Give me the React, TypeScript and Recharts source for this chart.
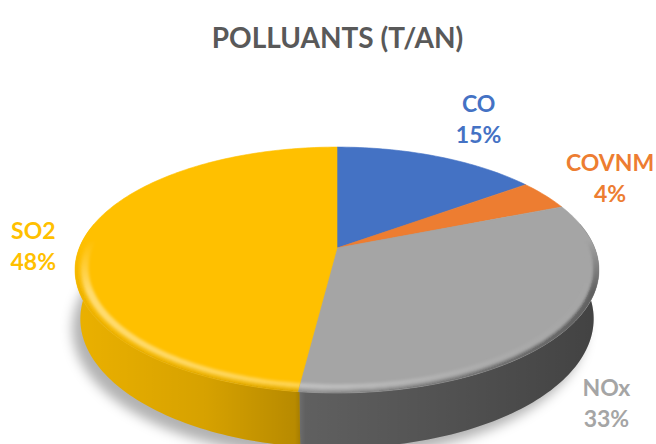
import React from 'react';
import { PieChart, Pie, Cell } from 'recharts';

// Share of each pollutant (%), clockwise from 12 o'clock
const categories = ['CO', 'COVNM', 'NOx', 'SO2'];
const shares = [15, 4, 33, 48];
const sliceColors = ['#4472C4', '#ED7D31', '#A5A5A5', '#FFC000'];
const chartTitle = 'POLLUANTS (T/AN)';

const rows = categories.map((name, i) => ({ name, value: shares[i] }));
const colorOf = (name: string) => sliceColors[categories.indexOf(name)] ?? '#999';

const WIDTH = 656;
const HEIGHT = 444;
const PIE_CX = 337;
const PIE_CY = 248;
const PIE_R = 100;

// Perspective camera looking down on the disc
const TILT = (27.5 * Math.PI) / 180;
const SIN_T = Math.sin(TILT);
const COS_T = Math.cos(TILT);
const DIST = 4.955;
const FOCAL = 1277;
const THICK = 0.215;

type Pt = [number, number];

// Polar angle (Recharts convention, degrees CCW from 3 o'clock), radius in pie units, height
const project = (cx: number, cy: number, deg: number, r: number, h: number): Pt => {
  const a = (deg * Math.PI) / 180;
  const x = r * Math.cos(a);
  const z = r * Math.sin(a);
  const v = z * SIN_T + h * COS_T;
  const w = DIST + z * COS_T - h * SIN_T;
  return [cx + (FOCAL * x) / w, cy - (FOCAL * v) / w];
};

const arcPoints = (cx: number, cy: number, a0: number, a1: number, r: number, h: number): Pt[] => {
  const n = Math.max(2, Math.ceil(Math.abs(a1 - a0) / 1.2));
  const out: Pt[] = [];
  for (let i = 0; i <= n; i++) out.push(project(cx, cy, a0 + ((a1 - a0) * i) / n, r, h));
  return out;
};

const toPath = (pts: Pt[]) =>
  pts.map((p, i) => `${i ? 'L' : 'M'}${p[0].toFixed(2)},${p[1].toFixed(2)}`).join('') + 'Z';

// Part of the outer wall that faces the viewer
const FRONT_LO = -192;
const FRONT_HI = 12;
const frontSpans = (start: number, end: number): [number, number][] => {
  const lo = Math.min(start, end) - 0.3;
  const hi = Math.max(start, end) + 0.3;
  const spans: [number, number][] = [];
  for (const k of [-720, -360, 0, 360]) {
    const a = Math.max(lo + k, FRONT_LO);
    const b = Math.min(hi + k, FRONT_HI);
    if (b > a) spans.push([a, b]);
  }
  return spans;
};

const SideWall = (props: any) => {
  const { cx, cy, startAngle, endAngle, fill } = props;
  return (
    <g>
      {frontSpans(startAngle, endAngle).map(([a, b], i) => {
        const top = arcPoints(cx, cy, b, a, 1, 0);
        const bottom = arcPoints(cx, cy, a, b, 1, -THICK);
        const d = toPath([...top, ...bottom]);
        return (
          <g key={i}>
            <path d={d} fill={fill} />
            <path d={d} fill="url(#wallShade)" />
          </g>
        );
      })}
    </g>
  );
};

const TopFace = (props: any) => {
  const { cx, cy, startAngle, endAngle, fill, name, payload } = props;
  const key = String(name ?? payload?.name ?? startAngle).replace(/\W/g, '');
  const face = toPath([[cx, cy], ...arcPoints(cx, cy, startAngle, endAngle, 1, 0)]);
  const s = startAngle > endAngle ? startAngle + 4 : startAngle - 4;
  const e = startAngle > endAngle ? endAngle - 4 : endAngle + 4;
  const band = (r0: number, r1: number) =>
    toPath([...arcPoints(cx, cy, s, e, r1, 0), ...arcPoints(cx, cy, e, s, r0, 0)]);
  return (
    <g>
      <defs>
        <clipPath id={`faceClip-${key}`}>
          <path d={face} />
        </clipPath>
      </defs>
      <path d={face} fill={fill} stroke={fill} strokeWidth={0.6} />
      <g clipPath={`url(#faceClip-${key})`}>
        <g mask="url(#rimFade)">
          <g filter="url(#rimSoft)">
            <path d={band(0.95, 0.978)} fill="url(#rimGlow)" />
            <path d={band(0.978, 1.05)} fill="url(#rimShadow)" />
          </g>
        </g>
      </g>
    </g>
  );
};

// Where each category label sits, in pie units around its slice
const labelSpots: Record<string, { r: number; h: number }> = {
  CO: { r: 1.5, h: 0 },
  COVNM: { r: 1.35, h: 0 },
  NOx: { r: 1.18, h: -0.23 },
  SO2: { r: 1.2, h: -0.03 },
};

const LABEL_SIZE = 23;
const LABEL_FONT = 'Lato, "Open Sans", sans-serif';

const renderLabel = (props: any) => {
  const { cx, cy, midAngle, percent } = props;
  const name: string = props.name ?? props.payload?.name;
  const spot = labelSpots[name] ?? { r: 1.3, h: 0 };
  const [x, y] = project(cx, cy, midAngle, spot.r, spot.h);
  const base = LABEL_SIZE * 0.36;
  return (
    <text
      x={x}
      y={y}
      fill={colorOf(name)}
      textAnchor="middle"
      fontFamily={LABEL_FONT}
      fontWeight={700}
      fontSize={LABEL_SIZE}
    >
      <tspan x={x} y={y - 15.5 + base}>
        {name}
      </tspan>
      <tspan x={x} y={y + 15.5 + base}>
        {`${Math.round(percent * 100)}%`}
      </tspan>
    </text>
  );
};

const shadowPath = toPath(arcPoints(PIE_CX, PIE_CY, 0, 360, 1, -THICK));

export default function App() {
  return (
    <div
      style={{
        position: 'fixed',
        left: 0,
        top: 0,
        width: WIDTH,
        height: HEIGHT,
        overflow: 'hidden',
        background: '#ffffff',
      }}
    >
      <svg width={WIDTH} height={HEIGHT} style={{ position: 'absolute', left: 0, top: 0 }}>
        <defs>
          <filter id="dropSoft" x="-20%" y="-20%" width="140%" height="140%">
            <feGaussianBlur stdDeviation="6" />
          </filter>
        </defs>
        <path d={shadowPath} transform="translate(-8,10)" fill="rgba(0,0,0,0.3)" filter="url(#dropSoft)" />
        <text
          x={337.5}
          y={48}
          textAnchor="middle"
          fill="#595959"
          fontFamily={LABEL_FONT}
          fontWeight={700}
          fontSize={28}
        >
          {chartTitle}
        </text>
      </svg>
      <div style={{ position: 'absolute', left: 0, top: 0 }}>
        <PieChart width={WIDTH} height={HEIGHT} margin={{ top: 0, right: 0, bottom: 0, left: 0 }}>
          <defs>
            <linearGradient id="wallShade" gradientUnits="userSpaceOnUse" x1={74} y1={0} x2={600} y2={0}>
              <stop offset="0" stopColor="#000" stopOpacity={0.08} />
              <stop offset="0.25" stopColor="#000" stopOpacity={0.16} />
              <stop offset="0.42" stopColor="#000" stopOpacity={0.28} />
              <stop offset="0.44" stopColor="#000" stopOpacity={0.42} />
              <stop offset="1" stopColor="#000" stopOpacity={0.6} />
            </linearGradient>
            <linearGradient id="rimGlow" gradientUnits="userSpaceOnUse" x1={74} y1={0} x2={600} y2={0}>
              <stop offset="0" stopColor="#fff" stopOpacity={0.45} />
              <stop offset="0.45" stopColor="#fff" stopOpacity={0.3} />
              <stop offset="0.75" stopColor="#fff" stopOpacity={0.1} />
              <stop offset="1" stopColor="#fff" stopOpacity={0} />
            </linearGradient>
            <linearGradient id="rimShadow" gradientUnits="userSpaceOnUse" x1={74} y1={0} x2={600} y2={0}>
              <stop offset="0" stopColor="#000" stopOpacity={0.06} />
              <stop offset="0.45" stopColor="#000" stopOpacity={0.14} />
              <stop offset="0.75" stopColor="#000" stopOpacity={0.28} />
              <stop offset="1" stopColor="#000" stopOpacity={0.42} />
            </linearGradient>
            <linearGradient id="rimFadeGrad" gradientUnits="userSpaceOnUse" x1={0} y1={240} x2={0} y2={292}>
              <stop offset="0" stopColor="#000" />
              <stop offset="1" stopColor="#fff" />
            </linearGradient>
            <mask id="rimFade" maskUnits="userSpaceOnUse" x={0} y={0} width={WIDTH} height={HEIGHT}>
              <rect x={0} y={0} width={WIDTH} height={HEIGHT} fill="url(#rimFadeGrad)" />
            </mask>
            <filter id="rimSoft" x="-10%" y="-10%" width="120%" height="120%">
              <feGaussianBlur stdDeviation="1.5" />
            </filter>
          </defs>
          <Pie
            data={rows}
            dataKey="value"
            nameKey="name"
            cx={PIE_CX}
            cy={PIE_CY}
            outerRadius={PIE_R}
            startAngle={90}
            endAngle={-270}
            stroke="none"
            isAnimationActive={false}
            shape={SideWall}
            label={false}
            labelLine={false}
          >
            {rows.map((r) => (
              <Cell key={r.name} fill={colorOf(r.name)} />
            ))}
          </Pie>
          <Pie
            data={rows}
            dataKey="value"
            nameKey="name"
            cx={PIE_CX}
            cy={PIE_CY}
            outerRadius={PIE_R}
            startAngle={90}
            endAngle={-270}
            stroke="none"
            isAnimationActive={false}
            shape={TopFace}
            label={renderLabel}
            labelLine={false}
          >
            {rows.map((r) => (
              <Cell key={r.name} fill={colorOf(r.name)} />
            ))}
          </Pie>
        </PieChart>
      </div>
    </div>
  );
}
